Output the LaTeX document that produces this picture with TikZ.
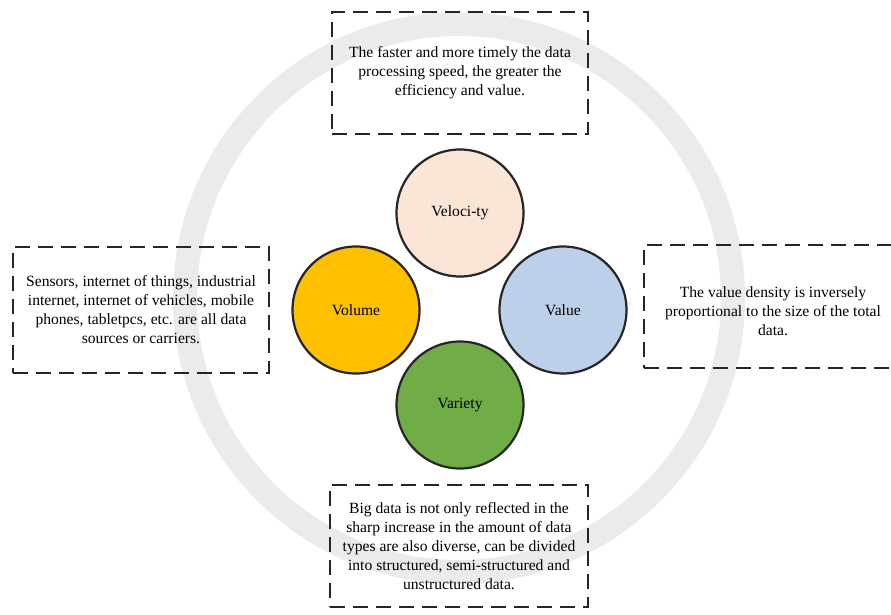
\documentclass[tikz,border=0pt]{standalone}
\usepackage{fontspec}
\setmainfont{Liberation Serif}
\definecolor{ringgray}{HTML}{EBEBEB}
\definecolor{velfill}{HTML}{FBE5D6}
\definecolor{volfill}{HTML}{FFC000}
\definecolor{valfill}{HTML}{BDD0EA}
\definecolor{varfill}{HTML}{70AD47}
\definecolor{edge}{HTML}{262626}
\begin{document}
\begin{tikzpicture}[x=1pt,y=-1pt,
  ringstyle/.style={draw=ringgray, line width=24pt},
  vcircle/.style={circle, draw=edge, line width=2.2pt, minimum size=127pt, inner sep=0pt,
    font=\fontsize{15.6}{19}\selectfont},
  dbox/.style={draw=edge, line width=2.7pt, dash pattern=on 15pt off 8pt,
    align=center, inner sep=0pt, font=\fontsize{15.6}{19}\selectfont}
]
\useasboundingbox (0,0) rectangle (891,615);
\clip (0,0) rectangle (891,615);
\fill[white] (0,0) rectangle (891,615);
\draw[ringstyle] (459,298) circle (274);

\node[vcircle, fill=velfill] (vel) at (460,213) {Veloci-ty};
\node[vcircle, fill=volfill] (vol) at (356,310) {Volume};
\node[vcircle, fill=valfill] (val) at (563,310) {Value};
\node[vcircle, fill=varfill] (var) at (460,405) {Variety};

\node[dbox, minimum width=256pt, minimum height=122pt] (top) at (460,73)
  {The faster and more timely the data\\ processing speed, the greater the\\ efficiency and value.};
\node[dbox, minimum width=256pt, minimum height=126pt] (left) at (141,310)
  {Sensors, internet of things, industrial\\ internet, internet of vehicles, mobile\\ phones, tabletpcs, etc. are all data\\ sources or carriers.};
\node[dbox, minimum width=258pt, minimum height=123pt] (right) at (773,306.5) {};
\node[align=center, inner sep=0pt, font=\fontsize{15.6}{19}\selectfont] (righttext) at (773,311)
  {The value density is inversely\\ proportional to the size of the total\\ data.};
\node[dbox, minimum width=258pt, minimum height=122pt] (bottom) at (459,546)
  {Big data is not only reflected in the\\ sharp increase in the amount of data\\ types are also diverse, can be divided\\ into structured, semi-structured and\\ unstructured data.};
\end{tikzpicture}
\end{document}
